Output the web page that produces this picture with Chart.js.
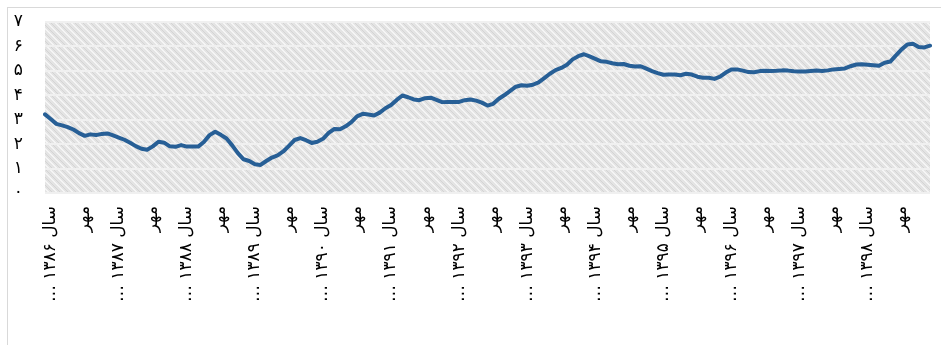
<!DOCTYPE html>
<html>
<head>
<meta charset="utf-8">
<script src="https://cdn.jsdelivr.net/npm/chart.js@4.4.0/dist/chart.umd.min.js"></script>
<style>
  html, body { margin: 0; padding: 0; background: #ffffff; }
  #wrap { width: 941px; height: 345px; position: relative; }
</style>
</head>
<body>
<div id="wrap"><canvas id="c" dir="rtl" width="941" height="345"></canvas></div>
<script>
// ---- data ----
const monthNames = ['فروردین','اردیبهشت','خرداد','تیر','مرداد','شهریور','مهر','آبان','آذر','دی','بهمن','اسفند'];
const years = ['۱۳۸۵','۱۳۸۶','۱۳۸۷','۱۳۸۸','۱۳۸۹','۱۳۹۰','۱۳۹۱','۱۳۹۲','۱۳۹۳','۱۳۹۴','۱۳۹۵','۱۳۹۶','۱۳۹۷','۱۳۹۸'];
const yTickLabels = ['۰','۱','۲','۳','۴','۵','۶','۷'];

// monthly values, اسفند ۱۳۸۵ .. اسفند ۱۳۹۸
const values = [
  3.22,
  3.03,2.83,2.77,2.70,2.60,2.45,2.34,2.40,2.37,2.42,2.44,2.36,
  2.27,2.18,2.06,1.92,1.81,1.77,1.91,2.10,2.06,1.91,1.89,1.96,
  1.90,1.90,1.90,2.09,2.37,2.51,2.38,2.23,1.95,1.63,1.38,1.31,
  1.18,1.15,1.31,1.45,1.54,1.70,1.93,2.17,2.25,2.16,2.05,2.10,
  2.22,2.46,2.62,2.61,2.73,2.90,3.14,3.24,3.21,3.17,3.29,3.47,
  3.60,3.81,3.99,3.92,3.83,3.80,3.88,3.90,3.81,3.72,3.73,3.73,
  3.73,3.80,3.83,3.78,3.70,3.58,3.65,3.86,4.01,4.18,4.35,4.41,
  4.39,4.43,4.53,4.70,4.88,5.03,5.12,5.25,5.47,5.60,5.68,5.59,
  5.49,5.39,5.37,5.31,5.27,5.28,5.21,5.18,5.19,5.09,4.99,4.91,
  4.84,4.85,4.85,4.82,4.88,4.85,4.76,4.72,4.72,4.67,4.76,4.93,
  5.06,5.06,5.01,4.95,4.94,4.99,5.00,4.99,5.00,5.02,5.01,4.98,
  4.97,4.97,4.99,5.01,4.99,5.02,5.06,5.08,5.10,5.19,5.26,5.27,
  5.25,5.23,5.21,5.33,5.38,5.63,5.88,6.08,6.11,5.98,5.96,6.03
];

// categories: year index + month index for each point
const catYear = [0];
const catMonth = [11];
for (let y = 1; y < years.length; y++) {
  for (let m = 0; m < 12; m++) { catYear.push(y); catMonth.push(m); }
}
const categories = catYear.map((y, i) => monthNames[catMonth[i]] + ' ' + years[y]);

// ---- drawing helpers ----
function makePattern(ctx) {
  const p = document.createElement('canvas');
  p.width = 8; p.height = 8;
  const g = p.getContext('2d');
  g.fillStyle = '#e4e4e4';
  g.fillRect(0, 0, 8, 8);
  for (let i = 0; i < 8; i++) {
    g.fillStyle = '#f5f5f5';
    g.fillRect((i) % 8, i, 1, 1);
    g.fillRect((i + 1) % 8, i, 1, 1);
    g.fillStyle = '#d4d4d4';
    g.fillRect((i + 4) % 8, i, 1, 1);
  }
  return ctx.createPattern(p, 'repeat');
}

const bgPlugin = {
  id: 'bg',
  beforeDraw(chart) {
    const ctx = chart.ctx;
    const a = chart.chartArea;
    ctx.save();
    ctx.fillStyle = '#ffffff';
    ctx.fillRect(0, 0, chart.width, chart.height);
    ctx.strokeStyle = '#d9d9d9';
    ctx.lineWidth = 1;
    ctx.strokeRect(7.5, 7.5, chart.width + 20, chart.height + 20);
    ctx.fillStyle = makePattern(ctx);
    ctx.fillRect(a.left, a.top, a.right - a.left, a.bottom - a.top);
    ctx.restore();
  }
};

new Chart(document.getElementById('c'), {
  type: 'line',
  data: {
    labels: categories,
    datasets: [{
      data: values,
      borderColor: '#275f96',
      borderWidth: 4,
      pointRadius: 0,
      tension: 0,
      borderJoinStyle: 'round',
      borderCapStyle: 'round',
      fill: false
    }]
  },
  options: {
    responsive: false,
    animation: false,
    devicePixelRatio: 1,
    layout: { padding: { top: 22, right: 11, left: 0, bottom: 0 } },
    plugins: { legend: { display: false }, tooltip: { enabled: false } },
    scales: {
      x: {
        type: 'category',
        offset: false,
        grid: { display: false, drawTicks: false },
        border: { display: false },
        afterFit(s) { s.height = 152; s.paddingLeft = 0; s.paddingRight = 0; s.paddingTop = 0; s.paddingBottom = 0; },
        ticks: {
          autoSkip: false,
          minRotation: 90,
          maxRotation: 90,
          padding: 13,
          color: '#000000',
          font: { family: 'DejaVu Sans', size: 17 },
          callback(v, i) {
            if (catMonth[i] === 0) return 'سال ' + years[catYear[i]] + ' …';
            if (catMonth[i] === 6) return monthNames[6];
            return null;
          }
        }
      },
      y: {
        min: 0,
        max: 7,
        grid: { color: '#f0f0f0', lineWidth: 2, drawTicks: false },
        border: { display: false },
        afterFit(s) { s.width = 45; s.paddingTop = 0; s.paddingBottom = 0; s.paddingLeft = 0; s.paddingRight = 0; },
        ticks: {
          stepSize: 1,
          autoSkip: false,
          padding: 22,
          crossAlign: 'center',
          color: '#000000',
          font: { family: 'DejaVu Sans', size: 17 },
          callback(v) { return yTickLabels[v]; }
        }
      }
    }
  },
  plugins: [bgPlugin]
});
</script>
</body>
</html>
